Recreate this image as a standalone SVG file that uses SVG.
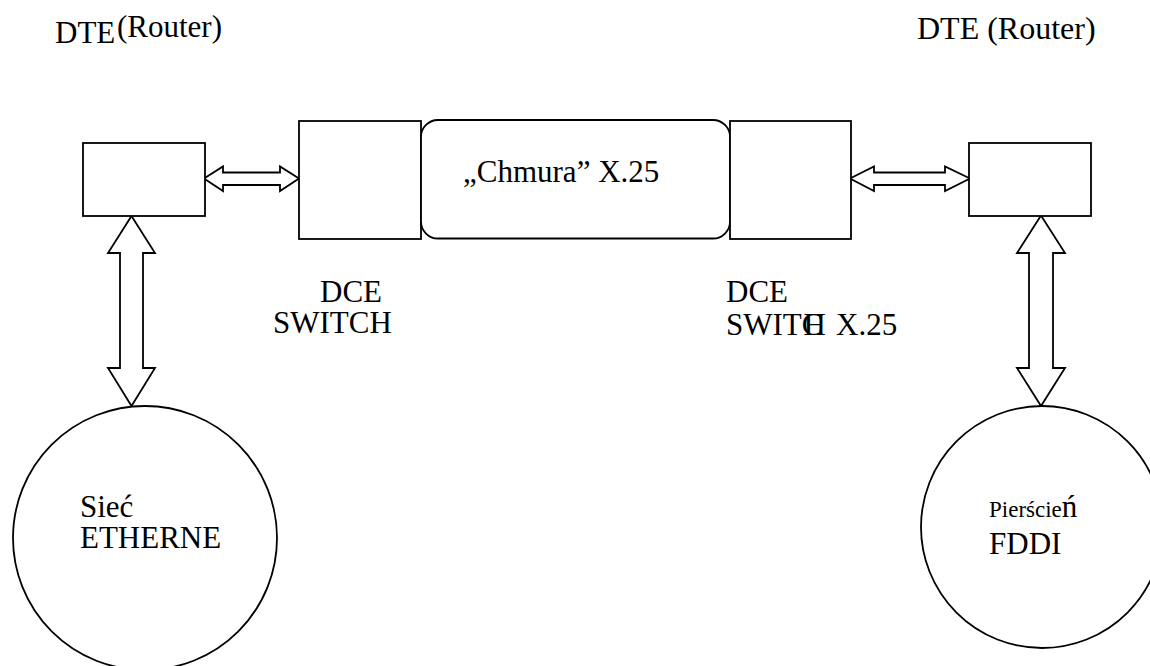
<svg xmlns="http://www.w3.org/2000/svg" width="1150" height="666" viewBox="0 0 1150 666">
<style>
.s{fill:#fff;stroke:#000;stroke-width:1.8}
.t{font-family:'Liberation Serif','Times New Roman','DejaVu Serif',serif;font-size:31px;fill:#000}
</style>
<rect width="1150" height="666" fill="#fff"/>
<g id="label-dte-left"><text class="t" x="55" y="43">DTE</text><text class="t" x="117" y="37">(Router)</text></g>
<g id="label-dte-right"><text class="t" x="917" y="39" style="font-size:32px">DTE (Router)</text></g>
<g id="connectors">
<polygon class="s" points="204,178.5 223,166.5 223,172.5 280,172.5 280,166.5 299,178.5 280,191 280,185 223,185 223,191"/>
<polygon class="s" points="850,178.5 874,166.5 874,172.5 945,172.5 945,166.5 970,178.5 945,191 945,185 874,185 874,191"/>
<polygon class="s" points="131.5,216 155,253 143,253 143,368 155,368 131.5,406 108,368 120,368 120,253 108,253"/>
<polygon class="s" points="1041,215.5 1065,253 1053,253 1053,368 1065,368 1041,406 1017,368 1029,368 1029,253 1017,253"/>
</g>
<g id="dte-left"><rect class="s" x="83" y="143" width="122" height="73"/></g>
<g id="dte-right"><rect class="s" x="969" y="143" width="122" height="73"/></g>
<g id="dce-left"><rect class="s" x="299" y="121" width="122" height="118"/>
<text class="t" x="320" y="302">DCE</text><text class="t" x="273" y="333">SWITCH</text></g>
<g id="cloud"><rect class="s" x="421" y="120" width="309" height="118.5" rx="17"/>
<text class="t" x="463" y="182">„Chmura” X.25</text></g>
<g id="dce-right"><rect class="s" x="730" y="121" width="121" height="118"/>
<text class="t" x="726" y="302">DCE</text><text class="t" x="726" y="335">SWITC<tspan dx="-19">H</tspan></text><text class="t" x="836" y="335">X.25</text></g>
<g id="ethernet"><circle class="s" cx="145" cy="538" r="132"/>
<text class="t" x="80" y="517">Sieć</text><text class="t" x="80" y="548">ETHERNE</text></g>
<g id="fddi"><circle class="s" cx="1042" cy="527" r="121"/>
<text class="t" x="989" y="517" style="font-size:23px">Pierście<tspan style="font-size:31px">ń</tspan></text><text class="t" x="989" y="554">FDDI</text></g>
</svg>
